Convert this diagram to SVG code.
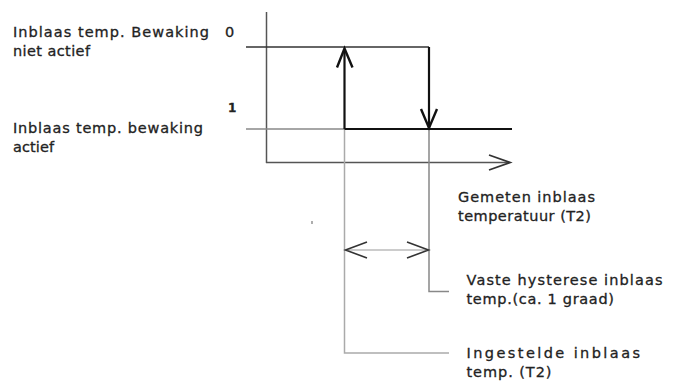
<svg xmlns="http://www.w3.org/2000/svg" width="676" height="381" viewBox="0 0 676 381">
<style>
text{font-family:"DejaVu Sans","Liberation Sans",Arial,sans-serif;font-size:14.5px;fill:#222;stroke:#222;stroke-width:0.3}
.ax{stroke:#555;stroke-width:1.5;fill:none}
.thin{stroke:#333;stroke-width:1.5;fill:none}
.grey{stroke:#888;stroke-width:1.5;fill:none}
.lgrey{stroke:#aaa;stroke-width:1.5;fill:none}
.bold{stroke:#111;stroke-width:2.2;fill:none}
.head{stroke:#111;stroke-width:2.4;fill:none;stroke-linejoin:miter}
</style>
<rect width="676" height="381" fill="#fff"/>
<g id="connectors">
  <line class="ax" x1="266.5" y1="12" x2="266.5" y2="163"/>
  <line class="ax" x1="266" y1="162.5" x2="509" y2="162.5"/>
  <polyline class="head" style="stroke:#333;stroke-width:1.8" points="489,155 510,162.5 489,170"/>
  <line class="thin" x1="246" y1="47" x2="429" y2="47"/>
  <line class="grey" x1="246" y1="129" x2="345" y2="129"/>
  <line class="bold" x1="344.5" y1="129" x2="512" y2="129"/>
  <line class="bold" x1="429" y1="47" x2="429" y2="128"/>
  <line class="bold" x1="344.5" y1="129" x2="344.5" y2="49"/>
  <polyline class="head" points="337,67.5 344.5,48.5 352.5,67.5"/>
  <polyline class="head" points="421,109 429,128 437,109"/>
  <polyline class="lgrey" points="344.5,130 344.5,353 449,353"/>
  <polyline class="grey" points="429,130 429,291.5 449,291.5"/>
  <line stroke="#bbb" stroke-width="1.5" x1="346" y1="250" x2="428" y2="250"/>
  <polyline class="head" style="stroke:#333;stroke-width:1.6" points="367,242 345.5,250 367,258"/>
  <polyline class="head" style="stroke:#333;stroke-width:1.6" points="407,242 428.5,250 407,258"/>
  <line stroke="#777" stroke-width="1.2" x1="312" y1="221" x2="312" y2="224"/>
</g>
<g id="label-niet-actief">
  <text x="13" y="36.5" textLength="196" lengthAdjust="spacing">Inblaas  temp. Bewaking</text>
  <text x="13" y="55.5" textLength="77" lengthAdjust="spacing">niet actief</text>
  <text x="225" y="36.5">0</text>
</g>
<g id="label-actief">
  <text x="228" y="112" style="font-size:12px;font-weight:bold">1</text>
  <text x="13" y="133" textLength="190" lengthAdjust="spacing">Inblaas temp. bewaking</text>
  <text x="13" y="151.5" textLength="41" lengthAdjust="spacing">actief</text>
</g>
<g id="label-gemeten">
  <text x="458" y="202" textLength="137" lengthAdjust="spacing">Gemeten inblaas</text>
  <text x="458" y="220.5" textLength="133" lengthAdjust="spacing">temperatuur (T2)</text>
</g>
<g id="label-hysterese">
  <text x="466.5" y="285" textLength="196" lengthAdjust="spacing">Vaste hysterese inblaas</text>
  <text x="466.5" y="303.5" textLength="147.5" lengthAdjust="spacing">temp.(ca. 1 graad)</text>
</g>
<g id="label-ingesteld">
  <text x="466.5" y="358" textLength="173.5" lengthAdjust="spacing">Ingestelde inblaas</text>
  <text x="466.5" y="376.5" textLength="85" lengthAdjust="spacing">temp. (T2)</text>
</g>
</svg>
